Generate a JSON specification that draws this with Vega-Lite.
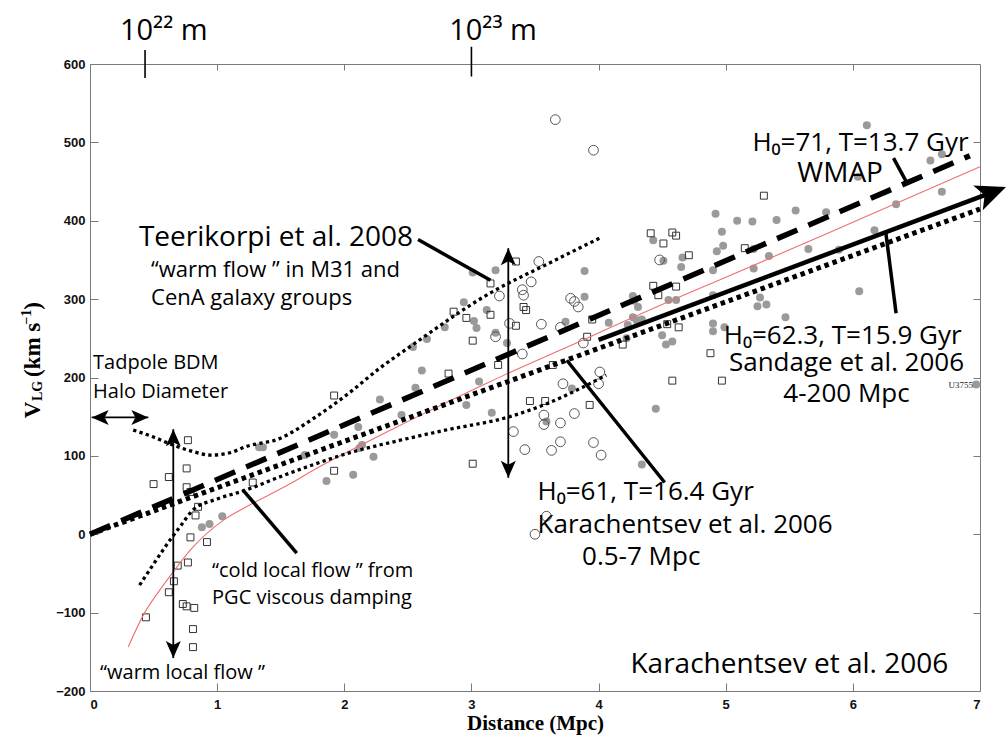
{
  "$schema": "https://vega.github.io/schema/vega-lite/v6.json",
  "width": 890,
  "height": 627,
  "autosize": {"type": "none"},
  "padding": {"left": 90, "top": 64, "right": 26, "bottom": 45},
  "background": "white",
  "config": {
    "view": {"stroke": null},
    "axis": {"grid": false, "domainColor": "#7a7a7a", "tickColor": "#7a7a7a", "labelFont": "Liberation Sans", "labelFontWeight": "bold", "labelFontSize": 13, "labelColor": "#111111", "titleFont": "Liberation Serif", "titleFontWeight": "bold", "titleFontSize": 21, "titleColor": "#000000"}
  },
  "resolve": {"axis": {"x": "independent", "y": "independent"}},
  "datasets": {
    "curves": [
      {"s":"red","d":0.30,"v":-144},{"s":"red","d":0.43,"v":-100},{"s":"red","d":0.55,"v":-71},{"s":"red","d":0.65,"v":-49},{"s":"red","d":0.79,"v":-20},{"s":"red","d":1.05,"v":18},{"s":"red","d":1.23,"v":35},{"s":"red","d":1.57,"v":64},{"s":"red","d":1.76,"v":82},{"s":"red","d":2.0,"v":103},{"s":"red","d":2.28,"v":126},{"s":"red","d":2.6,"v":152},{"s":"red","d":3.15,"v":195},{"s":"red","d":3.7,"v":235},{"s":"red","d":4.64,"v":303},{"s":"red","d":4.96,"v":325},{"s":"red","d":6.0,"v":398},{"s":"red","d":7.0,"v":469},
      {"s":"up","d":0.34,"v":133},{"s":"up","d":0.5,"v":124},{"s":"up","d":0.65,"v":114},{"s":"up","d":0.8,"v":106},{"s":"up","d":0.95,"v":101},{"s":"up","d":1.1,"v":104},{"s":"up","d":1.23,"v":112},{"s":"up","d":1.49,"v":122},{"s":"up","d":1.76,"v":148},{"s":"up","d":2.02,"v":178},{"s":"up","d":2.28,"v":212},{"s":"up","d":2.54,"v":242},{"s":"up","d":3.15,"v":308},{"s":"up","d":3.6,"v":345},{"s":"up","d":4.01,"v":378},
      {"s":"low","d":0.39,"v":-65},{"s":"low","d":0.5,"v":-38},{"s":"low","d":0.64,"v":-5},{"s":"low","d":0.71,"v":10},{"s":"low","d":0.81,"v":31},{"s":"low","d":1.0,"v":45},{"s":"low","d":1.2,"v":55},{"s":"low","d":1.57,"v":78},{"s":"low","d":1.76,"v":89},{"s":"low","d":2.0,"v":102},{"s":"low","d":2.44,"v":120},{"s":"low","d":2.8,"v":133},{"s":"low","d":3.3,"v":150},{"s":"low","d":3.6,"v":167},{"s":"low","d":3.88,"v":188},{"s":"low","d":4.06,"v":203},
      {"s":"wmap","d":0,"v":0},{"s":"wmap","d":6.92,"v":483},
      {"s":"kara","d":0,"v":0},{"s":"kara","d":7.0,"v":415}
    ],
    "segs": [
      {"k":"thick","d":4.0,"v":248,"d2":7.1,"v2":436.6},
      {"k":"ptr","d":2.58,"v":376,"d2":3.15,"v2":324},
      {"k":"ptr","d":6.32,"v":480,"d2":6.42,"v2":450},
      {"k":"ptr","d":6.26,"v":384,"d2":6.34,"v2":282},
      {"k":"ptr","d":3.75,"v":222,"d2":4.52,"v2":66},
      {"k":"ptr","d":1.2,"v":57,"d2":1.626,"v2":-24},
      {"k":"thin","d":0.655,"v":134,"d2":0.655,"v2":-158},
      {"k":"thin","d":3.29,"v":365,"d2":3.29,"v2":72},
      {"k":"thin","d":0.013,"v":149,"d2":0.459,"v2":149},
      {"k":"tick","d":0.433,"v":618,"d2":0.433,"v2":582},
      {"k":"tick","d":3.0,"v":622,"d2":3.0,"v2":584}
    ],
    "heads": [
      {"dir":"up","d":0.655,"v":134},{"dir":"down","d":0.655,"v":-158},
      {"dir":"up","d":3.29,"v":365},{"dir":"down","d":3.29,"v":72},
      {"dir":"left","d":0.013,"v":149},{"dir":"right","d":0.459,"v":149},
      {"dir":"big","d":7.205,"v":443}
    ],
    "pts": [
      {"t":"sq","d":0.50,"v":64},{"t":"sq","d":0.62,"v":73},{"t":"sq","d":0.77,"v":120},{"t":"sq","d":0.76,"v":84},{"t":"sq","d":0.76,"v":60},{"t":"sq","d":0.79,"v":54},{"t":"sq","d":0.85,"v":35},{"t":"sq","d":0.83,"v":24},{"t":"sq","d":0.79,"v":-4},{"t":"sq","d":0.92,"v":-10},{"t":"sq","d":0.77,"v":-36},{"t":"sq","d":0.69,"v":-40},{"t":"sq","d":0.66,"v":-60},{"t":"sq","d":0.62,"v":-74},{"t":"sq","d":0.73,"v":-89},{"t":"sq","d":0.76,"v":-92},{"t":"sq","d":0.82,"v":-94},{"t":"sq","d":0.44,"v":-106},{"t":"sq","d":0.81,"v":-121},{"t":"sq","d":0.81,"v":-144},
      {"t":"sq","d":1.28,"v":66},{"t":"sq","d":1.92,"v":177},{"t":"sq","d":1.92,"v":81},{"t":"sq","d":2.86,"v":284},{"t":"sq","d":2.96,"v":276},{"t":"sq","d":3.01,"v":247},{"t":"sq","d":2.82,"v":205},{"t":"sq","d":3.15,"v":320},{"t":"sq","d":3.35,"v":348},{"t":"sq","d":3.15,"v":280},{"t":"sq","d":3.41,"v":290},{"t":"sq","d":3.43,"v":286},{"t":"sq","d":3.35,"v":266},{"t":"sq","d":3.21,"v":216},{"t":"sq","d":3.95,"v":274},{"t":"sq","d":3.91,"v":252},{"t":"sq","d":3.64,"v":216},{"t":"sq","d":4.19,"v":242},{"t":"sq","d":4.58,"v":196},{"t":"sq","d":3.46,"v":170},{"t":"sq","d":3.58,"v":170},{"t":"sq","d":3.93,"v":165},{"t":"sq","d":4.41,"v":384},{"t":"sq","d":4.51,"v":371},{"t":"sq","d":4.58,"v":385},{"t":"sq","d":4.61,"v":381},{"t":"sq","d":4.43,"v":317},{"t":"sq","d":4.47,"v":305},{"t":"sq","d":4.61,"v":316},{"t":"sq","d":4.54,"v":268},{"t":"sq","d":4.63,"v":264},{"t":"sq","d":4.71,"v":356},{"t":"sq","d":4.88,"v":231},{"t":"sq","d":4.97,"v":196},{"t":"sq","d":3.01,"v":90},{"t":"sq","d":5.30,"v":432},{"t":"sq","d":5.15,"v":365},
      {"t":"oc","d":3.66,"v":529},{"t":"oc","d":3.96,"v":490},{"t":"oc","d":3.53,"v":348},{"t":"oc","d":3.47,"v":322},{"t":"oc","d":3.40,"v":312},{"t":"oc","d":3.41,"v":305},{"t":"oc","d":3.22,"v":304},{"t":"oc","d":3.78,"v":301},{"t":"oc","d":3.81,"v":297},{"t":"oc","d":3.84,"v":290},{"t":"oc","d":3.30,"v":269},{"t":"oc","d":3.55,"v":268},{"t":"oc","d":3.19,"v":252},{"t":"oc","d":3.70,"v":264},{"t":"oc","d":3.88,"v":244},{"t":"oc","d":3.40,"v":230},{"t":"oc","d":4.01,"v":207},{"t":"oc","d":4.00,"v":192},{"t":"oc","d":3.72,"v":192},{"t":"oc","d":3.57,"v":152},{"t":"oc","d":3.57,"v":140},{"t":"oc","d":3.70,"v":142},{"t":"oc","d":3.81,"v":154},{"t":"oc","d":3.33,"v":131},{"t":"oc","d":3.42,"v":108},{"t":"oc","d":3.63,"v":107},{"t":"oc","d":3.70,"v":118},{"t":"oc","d":3.96,"v":117},{"t":"oc","d":4.02,"v":101},{"t":"oc","d":3.59,"v":23},{"t":"oc","d":3.50,"v":0},{"t":"oc","d":4.48,"v":350},
      {"t":"gc","d":0.88,"v":9},{"t":"gc","d":0.94,"v":13},{"t":"gc","d":1.04,"v":23},{"t":"gc","d":1.33,"v":111},{"t":"gc","d":1.36,"v":111},{"t":"gc","d":1.69,"v":101},{"t":"gc","d":1.92,"v":127},{"t":"gc","d":1.86,"v":68},{"t":"gc","d":2.07,"v":76},{"t":"gc","d":2.11,"v":137},{"t":"gc","d":2.14,"v":114},{"t":"gc","d":2.12,"v":110},{"t":"gc","d":2.23,"v":99},{"t":"gc","d":2.28,"v":172},{"t":"gc","d":2.45,"v":152},{"t":"gc","d":2.56,"v":187},{"t":"gc","d":2.61,"v":209},{"t":"gc","d":2.65,"v":249},{"t":"gc","d":2.54,"v":239},{"t":"gc","d":2.79,"v":264},{"t":"gc","d":2.94,"v":296},{"t":"gc","d":3.02,"v":272},{"t":"gc","d":3.04,"v":263},{"t":"gc","d":3.01,"v":334},{"t":"gc","d":3.12,"v":286},{"t":"gc","d":3.06,"v":195},{"t":"gc","d":2.96,"v":165},{"t":"gc","d":3.16,"v":155},{"t":"gc","d":3.19,"v":337},{"t":"gc","d":3.19,"v":257},{"t":"gc","d":3.28,"v":244},{"t":"gc","d":3.89,"v":336},{"t":"gc","d":3.89,"v":303},{"t":"gc","d":3.74,"v":271},{"t":"gc","d":4.08,"v":270},{"t":"gc","d":4.27,"v":304},{"t":"gc","d":4.28,"v":298},{"t":"gc","d":4.31,"v":290},{"t":"gc","d":4.30,"v":273},{"t":"gc","d":4.34,"v":274},{"t":"gc","d":4.23,"v":267},{"t":"gc","d":4.27,"v":277},{"t":"gc","d":4.55,"v":299},{"t":"gc","d":4.61,"v":299},{"t":"gc","d":4.43,"v":375},{"t":"gc","d":4.51,"v":349},{"t":"gc","d":4.50,"v":254},{"t":"gc","d":4.53,"v":242},{"t":"gc","d":4.58,"v":246},{"t":"gc","d":3.79,"v":186},{"t":"gc","d":3.59,"v":144},{"t":"gc","d":4.45,"v":160},{"t":"gc","d":4.22,"v":250},{"t":"gc","d":4.34,"v":89},{"t":"gc","d":4.92,"v":409},{"t":"gc","d":5.09,"v":400},{"t":"gc","d":4.97,"v":386},{"t":"gc","d":4.98,"v":368},{"t":"gc","d":4.93,"v":361},{"t":"gc","d":4.90,"v":337},{"t":"gc","d":4.66,"v":353},{"t":"gc","d":4.65,"v":341},{"t":"gc","d":4.90,"v":305},{"t":"gc","d":4.90,"v":269},{"t":"gc","d":4.90,"v":259},{"t":"gc","d":4.99,"v":264},{"t":"gc","d":6.11,"v":522},{"t":"gc","d":6.61,"v":477},{"t":"gc","d":6.70,"v":485},{"t":"gc","d":6.70,"v":437},{"t":"gc","d":6.34,"v":421},{"t":"gc","d":6.17,"v":388},{"t":"gc","d":6.04,"v":456},{"t":"gc","d":5.79,"v":411},{"t":"gc","d":5.55,"v":413},{"t":"gc","d":5.40,"v":401},{"t":"gc","d":5.21,"v":399},{"t":"gc","d":5.22,"v":364},{"t":"gc","d":5.34,"v":355},{"t":"gc","d":5.22,"v":339},{"t":"gc","d":5.65,"v":364},{"t":"gc","d":5.89,"v":363},{"t":"gc","d":6.05,"v":310},{"t":"gc","d":5.27,"v":302},{"t":"gc","d":5.32,"v":293},{"t":"gc","d":5.25,"v":291},{"t":"gc","d":5.47,"v":277},{"t":"gc","d":6.97,"v":191}
    ],
    "labels": [
      {"k":"teer","t":"Teerikorpi et al. 2008","d":0.385,"v":378},
      {"k":"bigL","t":"H₀=61, T=16.4 Gyr","d":3.52,"v":54},
      {"k":"bigL","t":"Karachentsev et al. 2006","d":3.52,"v":12},
      {"k":"bigL","t":"0.5-7 Mpc","d":3.87,"v":-29},
      {"k":"bigC","t":"H₀=71, T=13.7 Gyr","d":6.06,"v":499},
      {"k":"bigC","t":"H₀=62.3, T=15.9 Gyr","d":5.92,"v":253},
      {"k":"bigC","t":"Sandage et al. 2006","d":5.95,"v":219},
      {"k":"bigC","t":"4-200 Mpc","d":5.95,"v":179},
      {"k":"wmap","t":"WMAP","d":5.90,"v":460},
      {"k":"kb","t":"Karachentsev et al. 2006","d":6.75,"v":-167},
      {"k":"med2","t":"“warm flow ” in M31 and","d":0.48,"v":337},
      {"k":"med2","t":"CenA galaxy groups","d":0.48,"v":301},
      {"k":"med","t":"Tadpole BDM","d":0.024,"v":219},
      {"k":"med","t":"Halo Diameter","d":0.024,"v":182},
      {"k":"med","t":"“cold local flow ” from","d":0.96,"v":-47},
      {"k":"med","t":"PGC viscous damping","d":0.96,"v":-81},
      {"k":"med","t":"“warm local flow ”","d":0.079,"v":-177},
      {"k":"top","t":"10²² m","d":0.58,"v":642},
      {"k":"top","t":"10²³ m","d":3.17,"v":642},
      {"k":"tiny","t":"U3755","d":6.945,"v":191},
      {"k":"yt","t":"V","d":-0.448,"v":158.7},
      {"k":"yts","t":"LG","d":-0.409,"v":182.9},
      {"k":"yt","t":"(km s","d":-0.448,"v":235.2},
      {"k":"yts","t":"−1","d":-0.496,"v":277.3},
      {"k":"yt","t":")","d":-0.448,"v":291.3}
    ]
  },
  "layer": [
    {
      "data": {"name": "pts"},
      "transform": [{"filter": "datum.t === 'gc'"}],
      "mark": {"type": "point", "shape": "circle", "filled": true, "color": "#9a9a9a", "opacity": 1, "size": 64},
      "encoding": {
        "x": {"field": "d", "type": "quantitative", "scale": {"domain": [0, 7], "nice": false, "zero": false}, "axis": null},
        "y": {"field": "v", "type": "quantitative", "scale": {"domain": [-200, 600], "nice": false, "zero": false}, "axis": null}
      }
    },
    {
      "data": {"name": "pts"},
      "transform": [{"filter": "datum.t === 'sq'"}],
      "mark": {"type": "point", "shape": "square", "filled": false, "stroke": "#333333", "strokeWidth": 1, "opacity": 1, "size": 48},
      "encoding": {
        "x": {"field": "d", "type": "quantitative", "scale": {"domain": [0, 7], "nice": false, "zero": false}, "axis": null},
        "y": {"field": "v", "type": "quantitative", "scale": {"domain": [-200, 600], "nice": false, "zero": false}, "axis": null}
      }
    },
    {
      "data": {"name": "pts"},
      "transform": [{"filter": "datum.t === 'oc'"}],
      "mark": {"type": "point", "shape": "circle", "filled": false, "stroke": "#555555", "strokeWidth": 1, "opacity": 1, "size": 95},
      "encoding": {
        "x": {"field": "d", "type": "quantitative", "scale": {"domain": [0, 7], "nice": false, "zero": false}, "axis": null},
        "y": {"field": "v", "type": "quantitative", "scale": {"domain": [-200, 600], "nice": false, "zero": false}, "axis": null}
      }
    },
    {
      "data": {"name": "curves"},
      "transform": [{"filter": "datum.s === 'red'"}],
      "mark": {"type": "line", "color": "#ef6f6f", "strokeWidth": 1.1, "interpolate": "monotone"},
      "encoding": {
        "x": {"field": "d", "type": "quantitative", "scale": {"domain": [0, 7], "nice": false, "zero": false},
              "axis": {"orient": "bottom", "values": [0, 1, 2, 3, 4, 5, 6, 7], "format": "d", "tickSize": -8, "labelPadding": 15, "title": "Distance (Mpc)", "titlePadding": 1}},
        "y": {"field": "v", "type": "quantitative", "scale": {"domain": [-200, 600], "nice": false, "zero": false},
              "axis": {"orient": "left", "values": [-200, -100, 0, 100, 200, 300, 400, 500, 600], "format": "d", "tickSize": -8, "labelPadding": 13, "title": null}}
      }
    },
    {
      "data": {"name": "curves"},
      "transform": [{"filter": "datum.s === 'up' || datum.s === 'low'"}],
      "mark": {"type": "line", "color": "#000000", "strokeWidth": 3.3, "strokeDash": [3.3, 3.3], "interpolate": "monotone"},
      "encoding": {
        "x": {"field": "d", "type": "quantitative", "scale": {"domain": [0, 7], "nice": false, "zero": false},
              "axis": {"orient": "top", "values": [1, 2, 3, 4, 5, 6], "labels": false, "tickSize": -6, "title": null}},
        "y": {"field": "v", "type": "quantitative", "scale": {"domain": [-200, 600], "nice": false, "zero": false},
              "axis": {"orient": "right", "values": [-100, 0, 100, 200, 300, 400, 500], "labels": false, "tickSize": -7, "title": null}},
        "detail": {"field": "s", "type": "nominal"}
      }
    },
    {
      "data": {"name": "curves"},
      "transform": [{"filter": "datum.s === 'wmap'"}],
      "mark": {"type": "line", "color": "#000000", "strokeWidth": 5.5, "strokeDash": [22, 12]},
      "encoding": {
        "x": {"field": "d", "type": "quantitative", "scale": {"domain": [0, 7], "nice": false, "zero": false}, "axis": null},
        "y": {"field": "v", "type": "quantitative", "scale": {"domain": [-200, 600], "nice": false, "zero": false}, "axis": null}
      }
    },
    {
      "data": {"name": "curves"},
      "transform": [{"filter": "datum.s === 'kara'"}],
      "mark": {"type": "line", "color": "#000000", "strokeWidth": 5, "strokeDash": [4.5, 4]},
      "encoding": {
        "x": {"field": "d", "type": "quantitative", "scale": {"domain": [0, 7], "nice": false, "zero": false}, "axis": null},
        "y": {"field": "v", "type": "quantitative", "scale": {"domain": [-200, 600], "nice": false, "zero": false}, "axis": null}
      }
    },
    {
      "data": {"name": "segs"},
      "transform": [{"filter": "datum.k === 'thick'"}],
      "mark": {"type": "rule", "color": "#000000", "strokeWidth": 4.5},
      "encoding": {
        "x": {"field": "d", "type": "quantitative", "scale": {"domain": [0, 7], "nice": false, "zero": false}, "axis": null},
        "y": {"field": "v", "type": "quantitative", "scale": {"domain": [-200, 600], "nice": false, "zero": false}, "axis": null},
        "x2": {"field": "d2"},
        "y2": {"field": "v2"}
      }
    },
    {
      "data": {"name": "segs"},
      "transform": [{"filter": "datum.k === 'ptr'"}],
      "mark": {"type": "rule", "color": "#000000", "strokeWidth": 3.5},
      "encoding": {
        "x": {"field": "d", "type": "quantitative", "scale": {"domain": [0, 7], "nice": false, "zero": false}, "axis": null},
        "y": {"field": "v", "type": "quantitative", "scale": {"domain": [-200, 600], "nice": false, "zero": false}, "axis": null},
        "x2": {"field": "d2"},
        "y2": {"field": "v2"}
      }
    },
    {
      "data": {"name": "segs"},
      "transform": [{"filter": "datum.k === 'thin'"}],
      "mark": {"type": "rule", "color": "#000000", "strokeWidth": 1.8},
      "encoding": {
        "x": {"field": "d", "type": "quantitative", "scale": {"domain": [0, 7], "nice": false, "zero": false}, "axis": null},
        "y": {"field": "v", "type": "quantitative", "scale": {"domain": [-200, 600], "nice": false, "zero": false}, "axis": null},
        "x2": {"field": "d2"},
        "y2": {"field": "v2"}
      }
    },
    {
      "data": {"name": "segs"},
      "transform": [{"filter": "datum.k === 'tick'"}],
      "mark": {"type": "rule", "color": "#000000", "strokeWidth": 1.6},
      "encoding": {
        "x": {"field": "d", "type": "quantitative", "scale": {"domain": [0, 7], "nice": false, "zero": false}, "axis": null},
        "y": {"field": "v", "type": "quantitative", "scale": {"domain": [-200, 600], "nice": false, "zero": false}, "axis": null},
        "x2": {"field": "d2"},
        "y2": {"field": "v2"}
      }
    },
    {
      "data": {"name": "heads"},
      "transform": [{"filter": "datum.dir === 'up'"}],
      "mark": {"type": "point", "shape": "M0,0L0.75,1.7L0,1.3L-0.75,1.7Z", "filled": true, "color": "#000000", "opacity": 1, "size": 400, "angle": 0},
      "encoding": {
        "x": {"field": "d", "type": "quantitative", "scale": {"domain": [0, 7], "nice": false, "zero": false}, "axis": null},
        "y": {"field": "v", "type": "quantitative", "scale": {"domain": [-200, 600], "nice": false, "zero": false}, "axis": null}
      }
    },
    {
      "data": {"name": "heads"},
      "transform": [{"filter": "datum.dir === 'down'"}],
      "mark": {"type": "point", "shape": "M0,0L0.75,1.7L0,1.3L-0.75,1.7Z", "filled": true, "color": "#000000", "opacity": 1, "size": 400, "angle": 180},
      "encoding": {
        "x": {"field": "d", "type": "quantitative", "scale": {"domain": [0, 7], "nice": false, "zero": false}, "axis": null},
        "y": {"field": "v", "type": "quantitative", "scale": {"domain": [-200, 600], "nice": false, "zero": false}, "axis": null}
      }
    },
    {
      "data": {"name": "heads"},
      "transform": [{"filter": "datum.dir === 'left'"}],
      "mark": {"type": "point", "shape": "M0,0L0.75,1.7L0,1.3L-0.75,1.7Z", "filled": true, "color": "#000000", "opacity": 1, "size": 400, "angle": 270},
      "encoding": {
        "x": {"field": "d", "type": "quantitative", "scale": {"domain": [0, 7], "nice": false, "zero": false}, "axis": null},
        "y": {"field": "v", "type": "quantitative", "scale": {"domain": [-200, 600], "nice": false, "zero": false}, "axis": null}
      }
    },
    {
      "data": {"name": "heads"},
      "transform": [{"filter": "datum.dir === 'right'"}],
      "mark": {"type": "point", "shape": "M0,0L0.75,1.7L0,1.3L-0.75,1.7Z", "filled": true, "color": "#000000", "opacity": 1, "size": 400, "angle": 90},
      "encoding": {
        "x": {"field": "d", "type": "quantitative", "scale": {"domain": [0, 7], "nice": false, "zero": false}, "axis": null},
        "y": {"field": "v", "type": "quantitative", "scale": {"domain": [-200, 600], "nice": false, "zero": false}, "axis": null}
      }
    },
    {
      "data": {"name": "heads"},
      "transform": [{"filter": "datum.dir === 'big'"}],
      "mark": {"type": "point", "shape": "M0,0L0.75,1.7L0,1.3L-0.75,1.7Z", "filled": true, "color": "#000000", "opacity": 1, "size": 1250, "angle": 69},
      "encoding": {
        "x": {"field": "d", "type": "quantitative", "scale": {"domain": [0, 7], "nice": false, "zero": false}, "axis": null},
        "y": {"field": "v", "type": "quantitative", "scale": {"domain": [-200, 600], "nice": false, "zero": false}, "axis": null}
      }
    },
    {
      "data": {"name": "labels"},
      "transform": [{"filter": "datum.k === 'teer'"}],
      "mark": {"type": "text", "font": "Open Sans", "fontSize": 28, "align": "left", "baseline": "middle", "color": "#000000"},
      "encoding": {
        "x": {"field": "d", "type": "quantitative", "scale": {"domain": [0, 7], "nice": false, "zero": false}, "axis": null},
        "y": {"field": "v", "type": "quantitative", "scale": {"domain": [-200, 600], "nice": false, "zero": false}, "axis": null},
        "text": {"field": "t"}
      }
    },
    {
      "data": {"name": "labels"},
      "transform": [{"filter": "datum.k === 'bigL'"}],
      "mark": {"type": "text", "font": "Open Sans", "fontSize": 26, "align": "left", "baseline": "middle", "color": "#000000"},
      "encoding": {
        "x": {"field": "d", "type": "quantitative", "scale": {"domain": [0, 7], "nice": false, "zero": false}, "axis": null},
        "y": {"field": "v", "type": "quantitative", "scale": {"domain": [-200, 600], "nice": false, "zero": false}, "axis": null},
        "text": {"field": "t"}
      }
    },
    {
      "data": {"name": "labels"},
      "transform": [{"filter": "datum.k === 'bigC'"}],
      "mark": {"type": "text", "font": "Open Sans", "fontSize": 26, "align": "center", "baseline": "middle", "color": "#000000"},
      "encoding": {
        "x": {"field": "d", "type": "quantitative", "scale": {"domain": [0, 7], "nice": false, "zero": false}, "axis": null},
        "y": {"field": "v", "type": "quantitative", "scale": {"domain": [-200, 600], "nice": false, "zero": false}, "axis": null},
        "text": {"field": "t"}
      }
    },
    {
      "data": {"name": "labels"},
      "transform": [{"filter": "datum.k === 'wmap'"}],
      "mark": {"type": "text", "font": "Open Sans", "fontSize": 28, "align": "center", "baseline": "middle", "color": "#000000"},
      "encoding": {
        "x": {"field": "d", "type": "quantitative", "scale": {"domain": [0, 7], "nice": false, "zero": false}, "axis": null},
        "y": {"field": "v", "type": "quantitative", "scale": {"domain": [-200, 600], "nice": false, "zero": false}, "axis": null},
        "text": {"field": "t"}
      }
    },
    {
      "data": {"name": "labels"},
      "transform": [{"filter": "datum.k === 'kb'"}],
      "mark": {"type": "text", "font": "Open Sans", "fontSize": 28, "align": "right", "baseline": "middle", "color": "#000000"},
      "encoding": {
        "x": {"field": "d", "type": "quantitative", "scale": {"domain": [0, 7], "nice": false, "zero": false}, "axis": null},
        "y": {"field": "v", "type": "quantitative", "scale": {"domain": [-200, 600], "nice": false, "zero": false}, "axis": null},
        "text": {"field": "t"}
      }
    },
    {
      "data": {"name": "labels"},
      "transform": [{"filter": "datum.k === 'med'"}],
      "mark": {"type": "text", "font": "Open Sans", "fontSize": 20, "align": "left", "baseline": "middle", "color": "#000000"},
      "encoding": {
        "x": {"field": "d", "type": "quantitative", "scale": {"domain": [0, 7], "nice": false, "zero": false}, "axis": null},
        "y": {"field": "v", "type": "quantitative", "scale": {"domain": [-200, 600], "nice": false, "zero": false}, "axis": null},
        "text": {"field": "t"}
      }
    },
    {
      "data": {"name": "labels"},
      "transform": [{"filter": "datum.k === 'med2'"}],
      "mark": {"type": "text", "font": "Open Sans", "fontSize": 22, "align": "left", "baseline": "middle", "color": "#000000"},
      "encoding": {
        "x": {"field": "d", "type": "quantitative", "scale": {"domain": [0, 7], "nice": false, "zero": false}, "axis": null},
        "y": {"field": "v", "type": "quantitative", "scale": {"domain": [-200, 600], "nice": false, "zero": false}, "axis": null},
        "text": {"field": "t"}
      }
    },
    {
      "data": {"name": "labels"},
      "transform": [{"filter": "datum.k === 'top'"}],
      "mark": {"type": "text", "font": "Open Sans", "fontSize": 29, "align": "center", "baseline": "middle", "color": "#000000"},
      "encoding": {
        "x": {"field": "d", "type": "quantitative", "scale": {"domain": [0, 7], "nice": false, "zero": false}, "axis": null},
        "y": {"field": "v", "type": "quantitative", "scale": {"domain": [-200, 600], "nice": false, "zero": false}, "axis": null},
        "text": {"field": "t"}
      }
    },
    {
      "data": {"name": "labels"},
      "transform": [{"filter": "datum.k === 'tiny'"}],
      "mark": {"type": "text", "font": "Liberation Serif", "fontSize": 9, "align": "right", "baseline": "middle", "color": "#222222"},
      "encoding": {
        "x": {"field": "d", "type": "quantitative", "scale": {"domain": [0, 7], "nice": false, "zero": false}, "axis": null},
        "y": {"field": "v", "type": "quantitative", "scale": {"domain": [-200, 600], "nice": false, "zero": false}, "axis": null},
        "text": {"field": "t"}
      }
    },
    {
      "data": {"name": "labels"},
      "transform": [{"filter": "datum.k === 'yt'"}],
      "mark": {"type": "text", "font": "Liberation Serif", "fontWeight": "bold", "fontSize": 23, "align": "center", "baseline": "middle", "angle": 270, "color": "#000000"},
      "encoding": {
        "x": {"field": "d", "type": "quantitative", "scale": {"domain": [0, 7], "nice": false, "zero": false}, "axis": null},
        "y": {"field": "v", "type": "quantitative", "scale": {"domain": [-200, 600], "nice": false, "zero": false}, "axis": null},
        "text": {"field": "t"}
      }
    },
    {
      "data": {"name": "labels"},
      "transform": [{"filter": "datum.k === 'yts'"}],
      "mark": {"type": "text", "font": "Liberation Serif", "fontWeight": "bold", "fontSize": 14, "align": "center", "baseline": "middle", "angle": 270, "color": "#000000"},
      "encoding": {
        "x": {"field": "d", "type": "quantitative", "scale": {"domain": [0, 7], "nice": false, "zero": false}, "axis": null},
        "y": {"field": "v", "type": "quantitative", "scale": {"domain": [-200, 600], "nice": false, "zero": false}, "axis": null},
        "text": {"field": "t"}
      }
    }
  ]
}
